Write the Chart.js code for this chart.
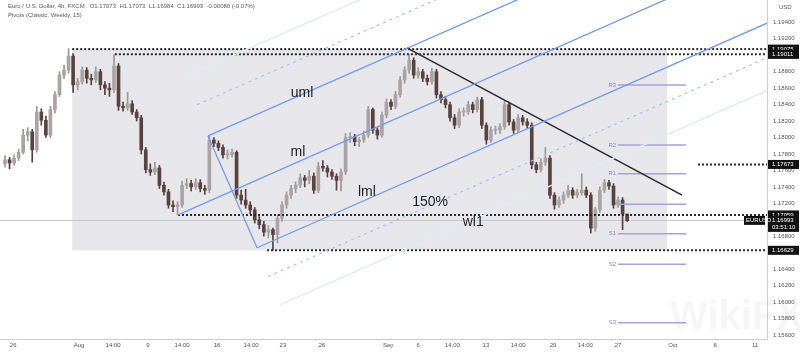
<!DOCTYPE html>
<html lang="en">
<head>
<meta charset="UTF-8">
<title>EUR/USD 4h pitchfork</title>
<script src="https://cdn.jsdelivr.net/npm/chart.js"></script>
<style>
  html, body { margin: 0; padding: 0; background: #fff; }
</style>
</head>
<body>
<canvas id="fx" width="800" height="353"></canvas>
<script>
// 4h candles (one bar per 8h step)
const opens = [1.1768,1.1773,1.1769,1.1775,1.1782,1.1803,1.1807,1.1785,1.1831,1.1821,
1.1803,1.1834,1.1852,1.1876,1.1882,1.1899,1.1864,1.1868,1.1882,1.1872,
1.1870,1.1880,1.1864,1.1860,1.1858,1.1887,1.1838,1.1836,1.1841,1.1831,
1.1824,1.1785,1.1761,1.1758,1.1763,1.1742,1.1734,1.1718,1.1716,1.1718,
1.1742,1.1744,1.1740,1.1745,1.1738,1.1736,1.1797,1.1793,1.1788,1.1779,
1.1779,1.1782,1.1730,1.1724,1.1718,1.1712,1.1700,1.1694,1.1685,1.1688,
1.1682,1.1702,1.1718,1.1730,1.1738,1.1742,1.1751,1.1748,1.1753,1.1736,
1.1765,1.1763,1.1758,1.1753,1.1748,1.1758,1.1800,1.1801,1.1795,1.1797,
1.1803,1.1834,1.1809,1.1803,1.1827,1.1843,1.1838,1.1852,1.1870,1.1882,
1.1894,1.1876,1.1880,1.1872,1.1868,1.1880,1.1852,1.1846,1.1840,1.1824,
1.1815,1.1831,1.1831,1.1840,1.1834,1.1846,1.1815,1.1797,1.1809,1.1809,
1.1813,1.1840,1.1819,1.1809,1.1824,1.1819,1.1815,1.1767,1.1761,1.1770,
1.1775,1.1730,1.1718,1.1724,1.1730,1.1736,1.1730,1.1733,1.1736,1.1730,
1.1690,1.1712,1.1736,1.1745,1.1741,1.1718,1.1724,1.1707];
const highs = [1.1778,1.1776,1.1779,1.1786,1.1810,1.1812,1.1810,1.1838,1.1835,1.1826,
1.1838,1.1856,1.1880,1.1888,1.1908,1.1902,1.1872,1.1886,1.1885,1.1877,
1.1886,1.1883,1.1868,1.1866,1.1901,1.1890,1.1843,1.1855,1.1845,1.1834,
1.1827,1.1788,1.1768,1.1770,1.1766,1.1746,1.1737,1.1723,1.1722,1.1747,
1.1750,1.1748,1.1750,1.1749,1.1742,1.1802,1.1800,1.1796,1.1791,1.1785,
1.1786,1.1784,1.1736,1.1737,1.1722,1.1715,1.1704,1.1698,1.1693,1.1690,
1.1706,1.1722,1.1734,1.1742,1.1746,1.1756,1.1754,1.1760,1.1757,1.1770,
1.1772,1.1766,1.1761,1.1756,1.1762,1.1805,1.1806,1.1804,1.1800,1.1808,
1.1838,1.1836,1.1812,1.1831,1.1847,1.1846,1.1856,1.1874,1.1886,1.1901,
1.1897,1.1885,1.1883,1.1876,1.1884,1.1883,1.1856,1.1850,1.1843,1.1828,
1.1835,1.1836,1.1844,1.1843,1.1849,1.1849,1.1818,1.1813,1.1814,1.1817,
1.1844,1.1843,1.1822,1.1828,1.1827,1.1823,1.1818,1.1770,1.1774,1.1788,
1.1778,1.1733,1.1728,1.1734,1.1742,1.1739,1.1737,1.1756,1.1740,1.1733,
1.1715,1.1740,1.1749,1.1748,1.1744,1.1728,1.1727,1.1707];
const lows = [1.1764,1.1762,1.1766,1.1772,1.1780,1.1796,1.1770,1.1782,1.1815,1.1800,
1.1800,1.1830,1.1850,1.1872,1.1878,1.1855,1.1858,1.1865,1.1866,1.1864,
1.1867,1.1858,1.1852,1.1850,1.1855,1.1833,1.1832,1.1833,1.1828,1.1820,
1.1780,1.1757,1.1754,1.1755,1.1738,1.1730,1.1714,1.1710,1.1706,1.1715,
1.1738,1.1735,1.1737,1.1734,1.1731,1.1733,1.1789,1.1784,1.1775,1.1774,
1.1776,1.1726,1.1719,1.1714,1.1707,1.1696,1.1689,1.1680,1.1678,1.1663,
1.1672,1.1698,1.1714,1.1726,1.1733,1.1739,1.1740,1.1744,1.1732,1.1733,
1.1759,1.1752,1.1749,1.1736,1.1735,1.1755,1.1794,1.1790,1.1789,1.1794,
1.1800,1.1805,1.1798,1.1800,1.1824,1.1834,1.1835,1.1849,1.1866,1.1878,
1.1872,1.1872,1.1868,1.1864,1.1865,1.1848,1.1842,1.1836,1.1820,1.1811,
1.1812,1.1826,1.1828,1.1830,1.1831,1.1811,1.1792,1.1794,1.1804,1.1805,
1.1810,1.1815,1.1805,1.1806,1.1815,1.1811,1.1762,1.1757,1.1758,1.1766,
1.1726,1.1713,1.1715,1.1720,1.1727,1.1726,1.1727,1.1730,1.1727,1.1684,
1.1686,1.1709,1.1733,1.1737,1.1714,1.1715,1.1688,1.1698];
const closes = [1.1773,1.1769,1.1775,1.1782,1.1803,1.1807,1.1785,1.1831,1.1821,1.1803,
1.1834,1.1852,1.1876,1.1882,1.1899,1.1864,1.1868,1.1882,1.1872,1.1870,
1.1880,1.1864,1.1860,1.1858,1.1887,1.1838,1.1836,1.1841,1.1831,1.1824,
1.1785,1.1761,1.1758,1.1763,1.1742,1.1734,1.1718,1.1716,1.1718,1.1742,
1.1744,1.1740,1.1745,1.1738,1.1736,1.1797,1.1793,1.1788,1.1779,1.1779,
1.1782,1.1730,1.1724,1.1718,1.1712,1.1700,1.1694,1.1685,1.1688,1.1682,
1.1702,1.1718,1.1730,1.1738,1.1742,1.1751,1.1748,1.1753,1.1736,1.1765,
1.1763,1.1758,1.1753,1.1748,1.1758,1.1800,1.1801,1.1795,1.1797,1.1803,
1.1834,1.1809,1.1803,1.1827,1.1843,1.1838,1.1852,1.1870,1.1882,1.1894,
1.1876,1.1880,1.1872,1.1868,1.1880,1.1852,1.1846,1.1840,1.1824,1.1815,
1.1831,1.1831,1.1840,1.1834,1.1846,1.1815,1.1797,1.1809,1.1809,1.1813,
1.1840,1.1819,1.1809,1.1824,1.1819,1.1815,1.1767,1.1761,1.1770,1.1775,
1.1730,1.1718,1.1724,1.1730,1.1736,1.1730,1.1733,1.1736,1.1730,1.1690,
1.1712,1.1736,1.1745,1.1741,1.1718,1.1724,1.1707,1.1699];

// time axis (bar index) and price axis
const xTickPos = [1.8, 16.3, 23.8, 31.5, 39.0, 46.7, 54.2, 61.2, 69.8, 84.4, 91.0, 98.5, 105.9, 113.0, 120.7, 127.8, 135.0, 147.1, 156.4, 165.2];
const xTickLabels = ['26','Aug','14:00','9','14:00','16','14:00','23','26','Sep','6','14:00','13','14:00','20','14:00','27','Oct','6','11'];
const yTicks = [1.156,1.158,1.160,1.162,1.164,1.166,1.168,1.170,1.172,1.174,1.176,1.178,1.180,1.182,1.184,1.186,1.188,1.190,1.192,1.194];

// horizontal dotted rays
const rayPrices = [1.19075, 1.19011, 1.17059, 1.16629, 1.17673];
const rayStarts = [14.8, 24.2, 38.1, 57.7, 152.6];

// pitchfork and its outer parallels
const forkNames = ['uml','ml','lml','handle','up150','up200','lo150','lo200'];
const forkX0 = [44.7, 38.1, 55.5, 44.7, 42.3, 39.6, 57.9, 60.6];
const forkY0 = [1.1802, 1.1706, 1.1666, 1.1802, 1.1840, 1.1874, 1.1631, 1.1597];
const forkX1 = [167.8, 167.8, 167.8, 55.5, 167.8, 167.8, 167.8, 167.8];
const forkY1 = [1.2101, 1.2022, 1.1939, 1.1666, 1.2144, 1.2185, 1.1897, 1.1857];

// descending trendline
const trendX = [88.5, 149.1];
const trendY = [1.1909, 1.1730];

// shaded range box
const boxX = [14.8, 145.8];
const boxY = [1.19075, 1.16629];

// weekly classic pivots
const pivotNames = ['R3','R2','R1','P','S1','S2','S3'];
const pivotPrices = [1.1864, 1.1791, 1.1756, 1.1719, 1.1683, 1.1646, 1.1575];
const pivotSpan = [135.0, 150.0];

// text notes on the chart
const noteText = ['uml','ml','lml','150%','wl1'];
const noteX = [65.4, 64.5, 79.7, 93.6, 103.1];
const noteY = [1.1854, 1.1782, 1.1734, 1.1722, 1.1697];

const lastPrice = 1.16993;
const tagPrices = [1.19075, 1.19011, 1.17673, 1.16629, 1.17059];

const FONT = "'Liberation Sans Narrow', 'Liberation Sans', Arial, sans-serif";
const UP = '#aaa3a3', DOWN = '#574240';

const idx = closes.map((c, i) => i);
const isUp = idx.map(i => closes[i] >= opens[i]);

const seg = (x0, y0, x1, y1) => [{x: x0, y: y0}, {x: x1, y: y1}];
const line = (data, color, width, dash) => ({
    type: 'line', data, borderColor: color, borderWidth: width, borderDash: dash || [],
    pointRadius: 0, fill: false, tension: 0, order: 0
});

const forkStyle = {
    uml: ['#729ce6', 1.3], ml: ['#729ce6', 1.3], lml: ['#729ce6', 1.3], handle: ['#729ce6', 1.3],
    up150: ['#a9c1ee', 1.2, [3, 4]], lo150: ['#a9c1ee', 1.2, [3, 4]],
    up200: ['#e4e9f4', 1.4], lo200: ['#e4e9f4', 1.4]
};

const datasets = [];
forkNames.forEach((n, i) => {
    const s = forkStyle[n];
    datasets.push(line(seg(forkX0[i], forkY0[i], forkX1[i], forkY1[i]), s[0], s[1], s[2]));
});
datasets.push(line(seg(trendX[0], trendY[0], trendX[1], trendY[1]), '#2a2a2a', 1.5));
rayPrices.forEach((p, i) => datasets.push(line(seg(rayStarts[i], p, 167.8, p), '#2b2b2b', 2, [2, 2])));
pivotPrices.forEach(p => datasets.push(line(seg(pivotSpan[0], p, pivotSpan[1], p), '#aaa1dc', 1.5)));

datasets.push({
    type: 'bar', data: idx.map(i => ({x: i, y: [opens[i], closes[i]]})),
    backgroundColor: idx.map(i => isUp[i] ? UP : DOWN),
    barThickness: 3, grouped: false, minBarLength: 1, order: 1
});
datasets.push({
    type: 'bar', data: idx.map(i => ({x: i, y: [lows[i], highs[i]]})),
    backgroundColor: idx.map(i => isUp[i] ? '#9e9797' : DOWN),
    barThickness: 1, grouped: false, order: 2
});

const overlay = {
    id: 'overlay',
    beforeDatasetsDraw(chart) {
        const {ctx, scales: {x, y}, chartArea: a} = chart;
        ctx.save();
        // watermark
        ctx.fillStyle = 'rgba(0,0,0,0.035)';
        ctx.font = 'bold 40px ' + FONT;
        ctx.textBaseline = 'middle';
        ctx.fillText('WikiFX', 670, 318);
        // range box
        const l = x.getPixelForValue(boxX[0]), r = x.getPixelForValue(boxX[1]);
        const t = y.getPixelForValue(boxY[0]), b = y.getPixelForValue(boxY[1]);
        ctx.fillStyle = '#e7e7eb';
        ctx.fillRect(l, t, r - l, b - t);
        // last price line
        const py = Math.round(y.getPixelForValue(lastPrice)) + 0.5;
        ctx.strokeStyle = '#c9c9c9';
        ctx.lineWidth = 1;
        ctx.beginPath(); ctx.moveTo(a.left, py); ctx.lineTo(a.right, py); ctx.stroke();
        // pivot labels
        ctx.fillStyle = '#8d80cf';
        ctx.font = '6px ' + FONT;
        ctx.textAlign = 'right';
        pivotNames.forEach((n, i) => {
            ctx.fillText(n, x.getPixelForValue(pivotSpan[0]) - 2, y.getPixelForValue(pivotPrices[i]));
        });
        ctx.restore();
    },
    afterDatasetsDraw(chart) {
        const {ctx, scales: {x, y}} = chart;
        ctx.save();
        ctx.fillStyle = '#1e1e1e';
        ctx.font = '14px ' + FONT;
        ctx.textAlign = 'center';
        ctx.textBaseline = 'middle';
        noteText.forEach((s, i) => ctx.fillText(s, x.getPixelForValue(noteX[i]), y.getPixelForValue(noteY[i])));
        ctx.restore();
    },
    afterDraw(chart) {
        const {ctx, scales: {y}, chartArea: a} = chart;
        ctx.save();
        ctx.font = '6px ' + FONT;
        ctx.textBaseline = 'middle';
        // header
        ctx.fillStyle = '#5a5a5a';
        ctx.fillText('Euro / U.S. Dollar, 4h, FXCM   O1.17073  H1.17073  L1.16984  C1.16993  -0.00080 (-0.07%)', 8, 6);
        ctx.fillText('Pivots (Classic, Weekly, 15)', 8, 15);
        ctx.fillText('USD', a.right + 12, 7);
        // price tags on the axis
        const tag = (p, h) => {
            const ty = y.getPixelForValue(p);
            ctx.fillStyle = '#111';
            ctx.fillRect(a.right + 1, ty - 4.5, 31, h);
            ctx.fillStyle = '#fff';
            ctx.textAlign = 'left';
            ctx.fillText(p.toFixed(5), a.right + 5, ty);
        };
        tagPrices.forEach(p => tag(p, 9));
        tag(lastPrice, 16);
        ctx.fillStyle = '#fff';
        ctx.fillText('03:51:10', a.right + 5, y.getPixelForValue(lastPrice) + 7);
        // symbol tag
        const ly = y.getPixelForValue(lastPrice);
        ctx.fillStyle = '#111';
        ctx.fillRect(a.right - 23, ly - 4.5, 21, 9);
        ctx.fillStyle = '#fff';
        ctx.fillText('EURUSD', a.right - 21, ly);
        ctx.restore();
    }
};

new Chart(document.getElementById('fx'), {
    type: 'bar',
    data: {datasets},
    options: {
        responsive: false,
        devicePixelRatio: 1,
        animation: false,
        layout: {padding: 0},
        plugins: {legend: {display: false}, tooltip: {enabled: false}},
        scales: {
            x: {
                type: 'linear', min: -1.1, max: 167.8, offset: false,
                grid: {display: false, drawTicks: false},
                border: {color: '#cfcfcf'},
                ticks: {
                    autoSkip: false, maxRotation: 0, padding: 3, color: '#555',
                    font: {family: FONT, size: 6},
                    callback: (v, i) => xTickLabels[i]
                },
                afterBuildTicks: s => { s.ticks = xTickPos.map(v => ({value: v})); },
                afterFit: s => { s.height = 14; s.paddingLeft = 0; s.paddingRight = 0; }
            },
            y: {
                position: 'right', min: 1.15551, max: 1.19672,
                grid: {display: false, drawTicks: false},
                border: {color: '#cfcfcf'},
                ticks: {
                    padding: 6, color: '#555', font: {family: FONT, size: 6},
                    callback: v => v.toFixed(5)
                },
                afterBuildTicks: s => { s.ticks = yTicks.map(v => ({value: v})); },
                afterFit: s => { s.width = 33; s.paddingTop = 0; s.paddingBottom = 0; }
            }
        }
    },
    plugins: [overlay]
});
</script>
</body>
</html>
